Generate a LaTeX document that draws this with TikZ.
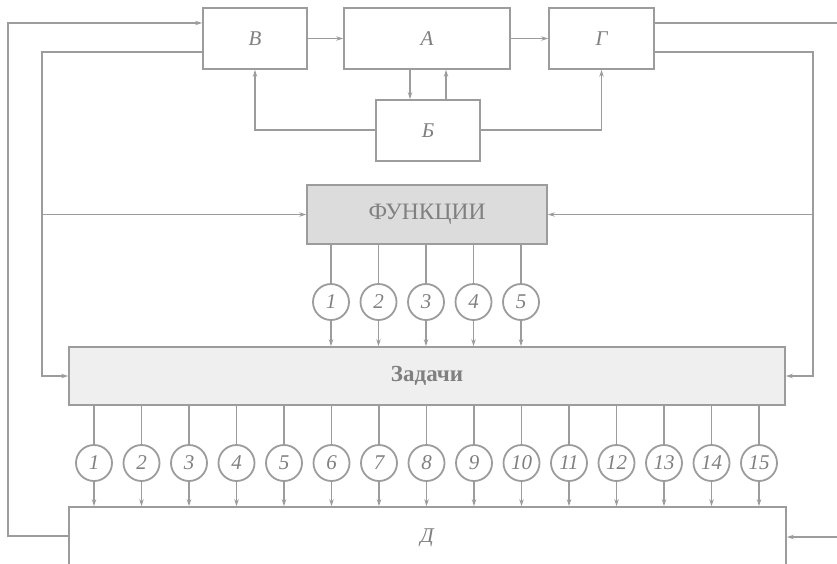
\documentclass[tikz,border=0pt]{standalone}
\usepackage{fontspec}
\setmainfont{Liberation Serif}
\usetikzlibrary{arrows.meta,calc}
\definecolor{ln}{HTML}{9C9C9C}
\definecolor{tx}{HTML}{808080}
\definecolor{ffill}{HTML}{DCDCDC}
\definecolor{zfill}{HTML}{EFEFEF}
\begin{document}
\begin{tikzpicture}[x=1pt,y=-1pt,
  line width=1.8pt,
  lnk/.style={draw=ln},
  arr/.style={draw=ln,-{Stealth[length=7pt,width=4.5pt]}},
  blk/.style={draw=ln,rectangle,inner sep=0pt,text=tx,font=\fontsize{21}{23}\selectfont\itshape},
  num/.style={draw=ln,circle,minimum size=36pt,inner sep=0pt,text=tx,font=\fontsize{21}{23}\selectfont\itshape}]
\useasboundingbox[fill=white] (0,0) rectangle (837,563);
% boxes
\node[blk,minimum width=104pt,minimum height=61pt] (V) at (255,38.5) {В};
\node[blk,minimum width=166pt,minimum height=61pt] (A) at (427,38.5) {А};
\node[blk,minimum width=105pt,minimum height=61pt] (G) at (601.5,38.5) {Г};
\node[blk,minimum width=104pt,minimum height=61pt] (B) at (428,130.5) {Б};
\node[blk,fill=ffill,minimum width=240pt,minimum height=59pt,font=\fontsize{23.5}{25}\selectfont] (F) at (427,214.5) {ФУНКЦИИ};
\node[blk,fill=zfill,minimum width=716pt,minimum height=58pt,font=\fontsize{23}{25}\selectfont\bfseries] (Z) at (427,376) {Задачи};
\node[draw=ln,rectangle,minimum width=717pt,minimum height=93pt,inner sep=0pt] (D) at (427.5,553.5) {};
\node[text=tx,font=\fontsize{21}{23}\selectfont\itshape] (Dl) at (427,538) {Д};
% top connections
\draw[arr] (V.east) -- (A.west);
\draw[arr] (A.east) -- (G.west);
\coordinate (ab) at (410,0);
\coordinate (ba) at (446,0);
\draw[arr] (A.south -| ab) -- (B.north -| ab);
\draw[arr] (B.north -| ba) -- (A.south -| ba);
\coordinate (bl) at (0,130);
\draw[arr] (B.west |- bl) -| (V.south);
\draw[arr] (B.east |- bl) -| (G.south);
% outer left loop
\coordinate (oL) at (8,23);
\coordinate (oLb) at (8,536);
\draw[arr] (D.west |- oLb) -- (oLb) -- (oL) -- (V.west |- oL);
% inner left
\coordinate (iL) at (42,52);
\draw[arr] (V.west |- iL) -- (iL) |- (Z.west);
\draw[arr] (iL |- F.west) -- (F.west);
% outer right loop
\coordinate (oR) at (850,23);
\coordinate (oRb) at (850,537);
\draw[arr] (G.east |- oR) -- (oR) -- (oRb) -- (D.east |- oRb);
% inner right
\coordinate (iR) at (813,52);
\draw[arr] (G.east |- iR) -- (iR) |- (Z.east);
\draw[arr] (iR |- F.east) -- (F.east);
% top row circles
\foreach \k in {1,...,5} {
  \node[num] (t\k) at ({331+(\k-1)*47.5},302) {\k};
  \draw[lnk] (F.south -| t\k) -- (t\k.north);
  \draw[arr] (t\k.south) -- (Z.north -| t\k);
}
% bottom row circles
\foreach \i in {1,...,15} {
  \node[num] (b\i) at ({94+(\i-1)*47.5},463) {\i};
  \draw[lnk] (Z.south -| b\i) -- (b\i.north);
  \draw[arr] (b\i.south) -- (D.north -| b\i);
}
\end{tikzpicture}
\end{document}
